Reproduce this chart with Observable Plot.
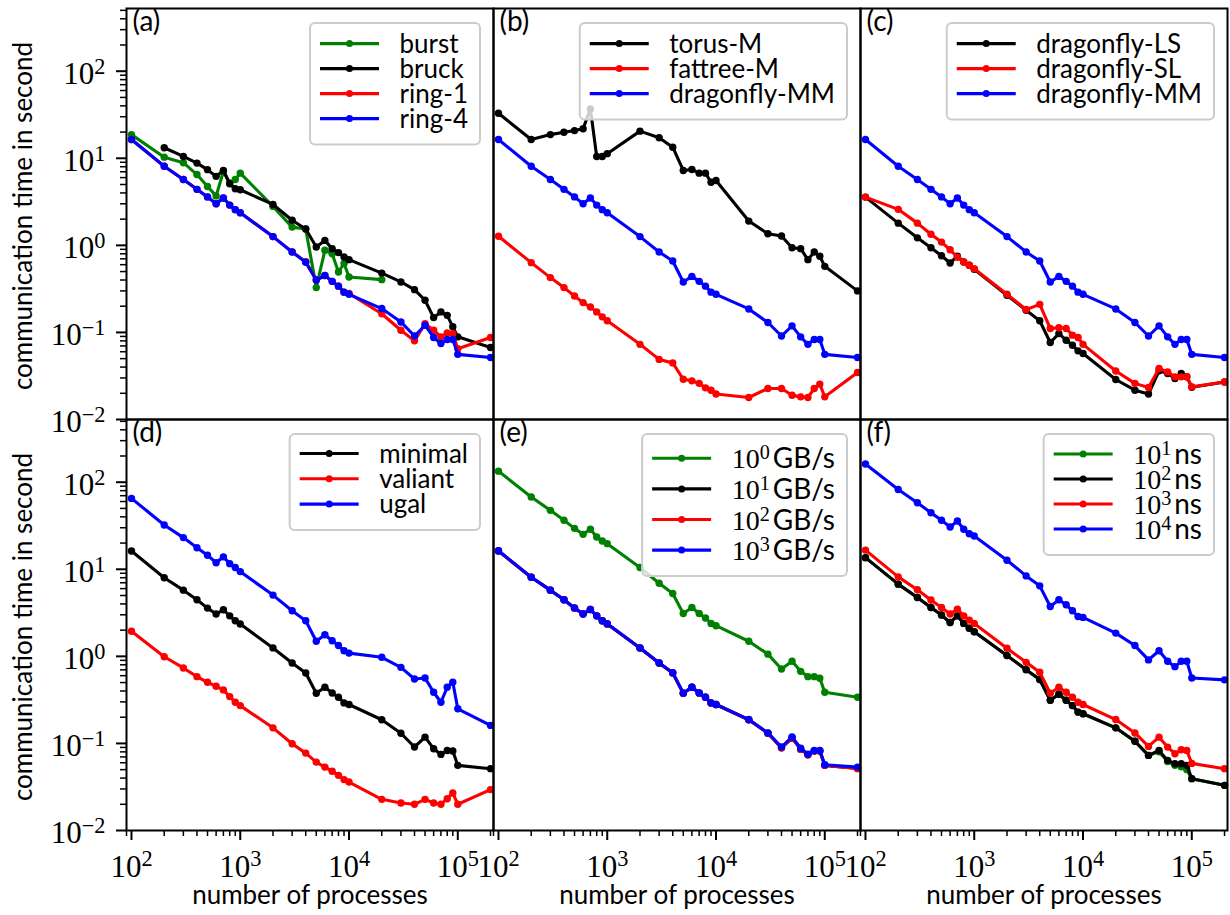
<!DOCTYPE html>
<html>
<head>
<meta charset="utf-8">
<script src="https://cdn.jsdelivr.net/npm/d3@7"></script>
<script src="https://cdn.jsdelivr.net/npm/@observablehq/plot@0.6"></script>
<style>
  body { margin: 0; background: #fff; }
  #chart { position: relative; width: 1230px; height: 915px; }
</style>
</head>
<body>
<div id="chart"></div>
<script>
const SANS = "Lato, 'Open Sans', sans-serif";
const SERIF = "'Liberation Serif', 'DejaVu Serif', serif";

// ---- data ----
const nprocs = [100,200,300,400,500,600,700,800,900,1000,2000,3000,4000,5000,6000,7000,8000,9000,10000,20000,30000,40000,50000,60000,70000,80000,90000,100000,200000];

// (a)
const burstX = [100,200,300,400,500,600,700,800,900,1000,2000,3000,4000,5000,6000,7000,8000,9000,10000,20000];
const burst = [18.7,10.3,8.9,6.5,4.75,3.7,7.06,5.2,5.7,6.75,2.8,1.62,1.54,0.327,0.877,0.80,0.494,0.62,0.433,0.404];
const bruckX = [200,300,400,500,600,700,800,900,1000,2000,3000,4000,5000,6000,7000,8000,9000,10000,20000,30000,40000,50000,60000,70000,80000,90000,100000,200000];
const bruck = [13.2,10.5,8.8,7.4,6.2,7.24,5.1,4.47,4.35,2.95,1.94,1.54,0.957,1.14,0.916,0.824,0.734,0.685,0.48,0.38,0.31,0.234,0.148,0.172,0.157,0.116,0.089,0.067];
const ring1 = [16.4,8.1,5.7,4.4,3.6,3.0,3.5,2.9,2.57,2.37,1.26,0.84,0.65,0.40,0.45,0.386,0.34,0.29,0.28,0.164,0.106,0.080,0.126,0.106,0.089,0.0987,0.097,0.065,0.0875];
const ring4 = [16.4,8.1,5.7,4.4,3.6,3.0,3.5,2.9,2.57,2.37,1.26,0.84,0.64,0.40,0.45,0.386,0.34,0.29,0.274,0.188,0.132,0.091,0.121,0.0875,0.0746,0.083,0.083,0.056,0.0515];

// (b)
const torusM = [32.9,16.4,18.7,19.9,20.8,21.8,36.9,10.5,10.5,11.3,20.5,17.2,13.4,7.25,7.44,6.75,6.75,5.3,5.56,1.9,1.36,1.28,0.94,0.916,0.685,0.84,0.75,0.574,0.3];
const fattreeM = [1.27,0.633,0.426,0.327,0.262,0.22,0.196,0.172,0.151,0.136,0.073,0.049,0.0447,0.029,0.0278,0.026,0.0231,0.0217,0.0196,0.0179,0.0227,0.0227,0.019,0.0182,0.0179,0.0227,0.0255,0.0182,0.0347];
const dragonflyMM = [16.4,8.1,5.7,4.4,3.6,3.0,3.5,2.9,2.57,2.37,1.26,0.84,0.66,0.38,0.44,0.386,0.34,0.29,0.274,0.186,0.13,0.091,0.119,0.089,0.073,0.083,0.083,0.056,0.0515];

// (c)
const dragonflyLS = [3.58,1.8,1.22,0.94,0.76,0.627,0.75,0.645,0.59,0.53,0.267,0.18,0.136,0.0766,0.097,0.0814,0.0713,0.0614,0.0573,0.0288,0.0217,0.0196,0.0363,0.0338,0.0296,0.0338,0.031,0.0235,0.027];
const dragonflySL = [3.58,2.59,1.8,1.34,1.09,0.89,0.73,0.645,0.59,0.54,0.274,0.183,0.21,0.111,0.113,0.111,0.093,0.0875,0.073,0.036,0.026,0.0233,0.0385,0.0352,0.0309,0.0309,0.031,0.0237,0.027];

// (d)
const minimal = [16.2,8.0,5.76,4.46,3.58,3.06,3.43,2.92,2.56,2.35,1.25,0.84,0.645,0.377,0.442,0.38,0.339,0.292,0.28,0.187,0.131,0.091,0.118,0.087,0.0748,0.083,0.082,0.056,0.0513];
const valiant = [1.94,0.99,0.736,0.585,0.504,0.453,0.412,0.345,0.297,0.272,0.151,0.099,0.0774,0.061,0.0535,0.048,0.043,0.0384,0.036,0.0228,0.0207,0.02,0.0228,0.0207,0.02,0.0232,0.027,0.02,0.0295];
const ugal = [65.2,32.3,23.1,17.7,14.5,11.9,13.9,11.6,10.5,9.4,5.05,3.34,2.56,1.49,1.77,1.51,1.33,1.16,1.09,0.975,0.748,0.55,0.565,0.387,0.297,0.442,0.504,0.25,0.161];

// (e)
const bw1 = [134,67.5,47.5,36.5,29.5,25.2,28.8,23.5,21.1,19.7,10.5,6.92,5.27,3.11,3.64,3.11,2.76,2.39,2.25,1.49,1.06,0.717,0.877,0.673,0.585,0.585,0.56,0.387,0.339];
const bw10 = [16.2,8.1,5.76,4.46,3.58,3.06,3.45,2.92,2.56,2.35,1.25,0.84,0.645,0.377,0.442,0.38,0.339,0.292,0.28,0.187,0.131,0.089,0.115,0.086,0.074,0.082,0.082,0.056,0.0515];
const bw100 = [16.2,8.1,5.76,4.46,3.58,3.06,3.45,2.92,2.56,2.35,1.25,0.84,0.645,0.377,0.442,0.38,0.339,0.292,0.28,0.187,0.131,0.089,0.116,0.086,0.074,0.082,0.082,0.056,0.0515];
const bw1000 = [16.3,8.1,5.76,4.46,3.6,3.06,3.45,2.92,2.56,2.37,1.25,0.84,0.65,0.378,0.442,0.38,0.339,0.292,0.28,0.188,0.132,0.091,0.119,0.088,0.075,0.083,0.083,0.057,0.0535];

// (f)
const lat10 = [13.6,6.75,4.74,3.64,2.98,2.45,2.92,2.39,2.1,1.92,1.02,0.704,0.541,0.313,0.367,0.313,0.272,0.229,0.219,0.151,0.106,0.0729,0.08,0.062,0.056,0.054,0.05,0.0394,0.033];
const lat100 = [13.6,6.75,4.74,3.64,2.98,2.45,2.92,2.39,2.1,1.92,1.02,0.704,0.541,0.313,0.367,0.313,0.272,0.229,0.219,0.151,0.106,0.0729,0.083,0.0638,0.0585,0.0585,0.056,0.0394,0.033];
const lat1000 = [16.6,8.18,5.81,4.43,3.64,3.06,3.49,2.92,2.61,2.39,1.24,0.853,0.656,0.377,0.442,0.387,0.339,0.297,0.28,0.188,0.132,0.0924,0.118,0.0908,0.0762,0.0846,0.083,0.059,0.0513];
const lat10000 = [162,82.6,58,44.6,36.5,30.6,35.8,28.8,25.6,24.1,12.7,8.39,6.45,3.74,4.46,3.91,3.34,2.87,2.8,1.85,1.33,0.91,1.16,0.877,0.762,0.877,0.877,0.565,0.537];

// ticks
const xMajor = [1e2, 1e3, 1e4, 1e5];
const xMinor = [90,200,300,400,500,600,700,800,900,2000,3000,4000,5000,6000,7000,8000,9000,20000,30000,40000,50000,60000,70000,80000,90000,200000];
const yMajor = [1e-2, 1e-1, 1, 10, 100];
const yMinor = [0.02,0.03,0.04,0.05,0.06,0.07,0.08,0.09,0.2,0.3,0.4,0.5,0.6,0.7,0.8,0.9,2,3,4,5,6,7,8,9,20,30,40,50,60,70,80,90,200,300,400,500];

const panelLabels = ["(a)","(b)","(c)","(d)","(e)","(f)"];
const xTitle = "number of processes";
const yTitle = "communication time in second";

const GREEN = "#008000", BLACK = "#000000", RED = "#ff0000", BLUE = "#0000ff";

const panels = [
  {col:0,row:0, series:[["burst",GREEN,burstX,burst],["bruck",BLACK,bruckX,bruck],["ring-1",RED,nprocs,ring1],["ring-4",BLUE,nprocs,ring4]]},
  {col:1,row:0, series:[["torus-M",BLACK,nprocs,torusM],["fattree-M",RED,nprocs,fattreeM],["dragonfly-MM",BLUE,nprocs,dragonflyMM]]},
  {col:2,row:0, series:[["dragonfly-LS",BLACK,nprocs,dragonflyLS],["dragonfly-SL",RED,nprocs,dragonflySL],["dragonfly-MM",BLUE,nprocs,dragonflyMM]]},
  {col:0,row:1, series:[["minimal",BLACK,nprocs,minimal],["valiant",RED,nprocs,valiant],["ugal",BLUE,nprocs,ugal]]},
  {col:1,row:1, series:[["10^0GB/s",GREEN,nprocs,bw1],["10^1GB/s",BLACK,nprocs,bw10],["10^2GB/s",RED,nprocs,bw100],["10^3GB/s",BLUE,nprocs,bw1000]]},
  {col:2,row:1, series:[["10^1ns",GREEN,nprocs,lat10],["10^2ns",BLACK,nprocs,lat100],["10^3ns",RED,nprocs,lat1000],["10^4ns",BLUE,nprocs,lat10000]]}
];

// legend layout (per panel): first row offset, row spacing
const legendLayout = [
  {first:20.6, step:25}, {first:20.6, step:25}, {first:20.6, step:25},
  {first:19.5, step:25.3}, {first:24.3, step:30.6}, {first:20, step:25}
];

// ---- layout ----
const W = 1230, H = 915;
const ML = 126, MR = 3, MT = 8, MB = 85;
const colW = (W - ML - MR) / 3, rowH = (H - MT - MB) / 2;

const marks = [];
panels.forEach(p => {
  p.series.forEach(([name, color, xs, ys]) => {
    const rows = xs.map((x, i) => ({x, y: ys[i], fx: p.col, fy: p.row}));
    marks.push(Plot.line(rows, {x: "x", y: "y", fx: "fx", fy: "fy", stroke: color, strokeWidth: 3.1, strokeLinejoin: "round", strokeLinecap: "round"}));
    marks.push(Plot.dot(rows, {x: "x", y: "y", fx: "fx", fy: "fy", fill: color, r: 3.7}));
  });
});

const labelRows = panels.map((p, i) => ({fx: p.col, fy: p.row, label: panelLabels[i]}));
const bottomRows = panels.filter(p => p.row === 1).map(p => ({fx: p.col, fy: p.row}));
const leftRows = panels.filter(p => p.col === 0).map(p => ({fx: p.col, fy: p.row}));
const expFmt = d => "10^" + Math.round(Math.log10(d));

const chart = Plot.plot({
  width: W, height: H,
  marginLeft: ML, marginRight: MR, marginTop: MT, marginBottom: MB,
  style: {fontFamily: SANS, fontSize: "26px", background: "white", overflow: "visible"},
  fx: {domain: [0,1,2], padding: 0, axis: null},
  fy: {domain: [0,1], padding: 0, axis: null},
  x: {type: "log", domain: [90, 2.13e5], axis: null, label: null},
  y: {type: "log", domain: [0.01, 525], axis: null, label: null},
  marks: [
    Plot.axisX(xMinor, {tickSize: 6, strokeWidth: 1.5, fill: "none", label: null}),
    Plot.axisX(xMajor, {tickSize: 10, strokeWidth: 2, tickPadding: 14, tickFormat: expFmt, fontSize: 31, fontFamily: SERIF, label: null}),
    Plot.axisY(yMinor, {tickSize: 6, strokeWidth: 1.5, fill: "none", label: null}),
    Plot.axisY(yMajor, {tickSize: 10, strokeWidth: 2, tickPadding: 11, tickFormat: expFmt, fontSize: 31, fontFamily: SERIF, label: null}),
    ...marks,
    Plot.frame({stroke: "black", strokeWidth: 2}),
    Plot.text(labelRows, {fx: "fx", fy: "fy", text: "label", frameAnchor: "top-left", textAnchor: "start", lineAnchor: "top", dx: 6, dy: 3, fontSize: 28}),
    Plot.text(bottomRows, {fx: "fx", fy: "fy", text: () => xTitle, frameAnchor: "bottom", textAnchor: "middle", lineAnchor: "bottom", dy: 73, fontSize: 26}),
    Plot.text(leftRows, {fx: "fx", fy: "fy", text: () => yTitle, frameAnchor: "left", textAnchor: "middle", rotate: -90, dx: -103, dy: 2, fontSize: 26})
  ]
});

document.getElementById("chart").appendChild(chart);
const svg = d3.select(chart.tagName.toLowerCase() === "svg" ? chart : chart.querySelector("svg"));

// superscripted tick labels
function sup(el, text, serifFamily) {
  const m = text.match(/^10\^(-?\d+)(.*)$/);
  if (!m) return false;
  const s = d3.select(el);
  s.text(null);
  s.append("tspan").attr("font-family", serifFamily).text("10");
  s.append("tspan").attr("font-family", serifFamily).attr("font-size", "0.72em").attr("dy", "-0.45em").text(m[1].replace("-", "\u2212"));
  if (m[2]) s.append("tspan").attr("dy", "0.324em").attr("dx", "3").text(m[2]);
  return true;
}
svg.selectAll('g[aria-label="x-axis tick label"] text, g[aria-label="y-axis tick label"] text').each(function() {
  sup(this, this.textContent, SERIF);
});
svg.selectAll('g[aria-label="y-axis tick label"] text').attr("transform", function() {
  const t = d3.select(this).attr("transform") || "";
  return t + " translate(0,3)";
});

// legends
const lg = svg.append("g").attr("class", "legends").attr("text-anchor", "start");
panels.forEach((p, pi) => {
  const L = legendLayout[pi];
  const colLeft = ML + p.col * colW, colRight = colLeft + colW, rowTop = MT + p.row * rowH;
  const g = lg.append("g");
  const rect = g.append("rect");
  const texts = [];
  p.series.forEach(([name, color], i) => {
    const cy = L.first + i * L.step;
    g.append("line").attr("x1", 10).attr("x2", 69).attr("y1", cy).attr("y2", cy)
      .attr("stroke", color).attr("stroke-width", 3.1).attr("stroke-linecap", "butt");
    g.append("circle").attr("cx", 39.5).attr("cy", cy).attr("r", 3.5).attr("fill", color);
    const t = g.append("text").attr("x", 89.5).attr("y", cy).attr("dy", "0.36em")
      .attr("text-anchor", "start")
      .attr("font-family", SANS).attr("font-size", 26).attr("fill", "black");
    if (!sup(t.node(), name, SERIF)) t.text(name);
    else t.attr("font-size", 28);
    texts.push(t.node());
  });
  const maxW = d3.max(texts, t => t.getBBox().width);
  const bw = 89.5 + maxW + 12;
  const bh = L.first + (p.series.length - 1) * L.step + 26;
  rect.attr("x", 0).attr("y", 0).attr("width", bw).attr("height", bh).attr("rx", 5)
    .attr("fill", "white").attr("fill-opacity", 0.8).attr("stroke", "#cccccc").attr("stroke-width", 2);
  g.attr("transform", `translate(${colRight - 13 - bw},${rowTop + 15})`);
});
</script>
</body>
</html>
